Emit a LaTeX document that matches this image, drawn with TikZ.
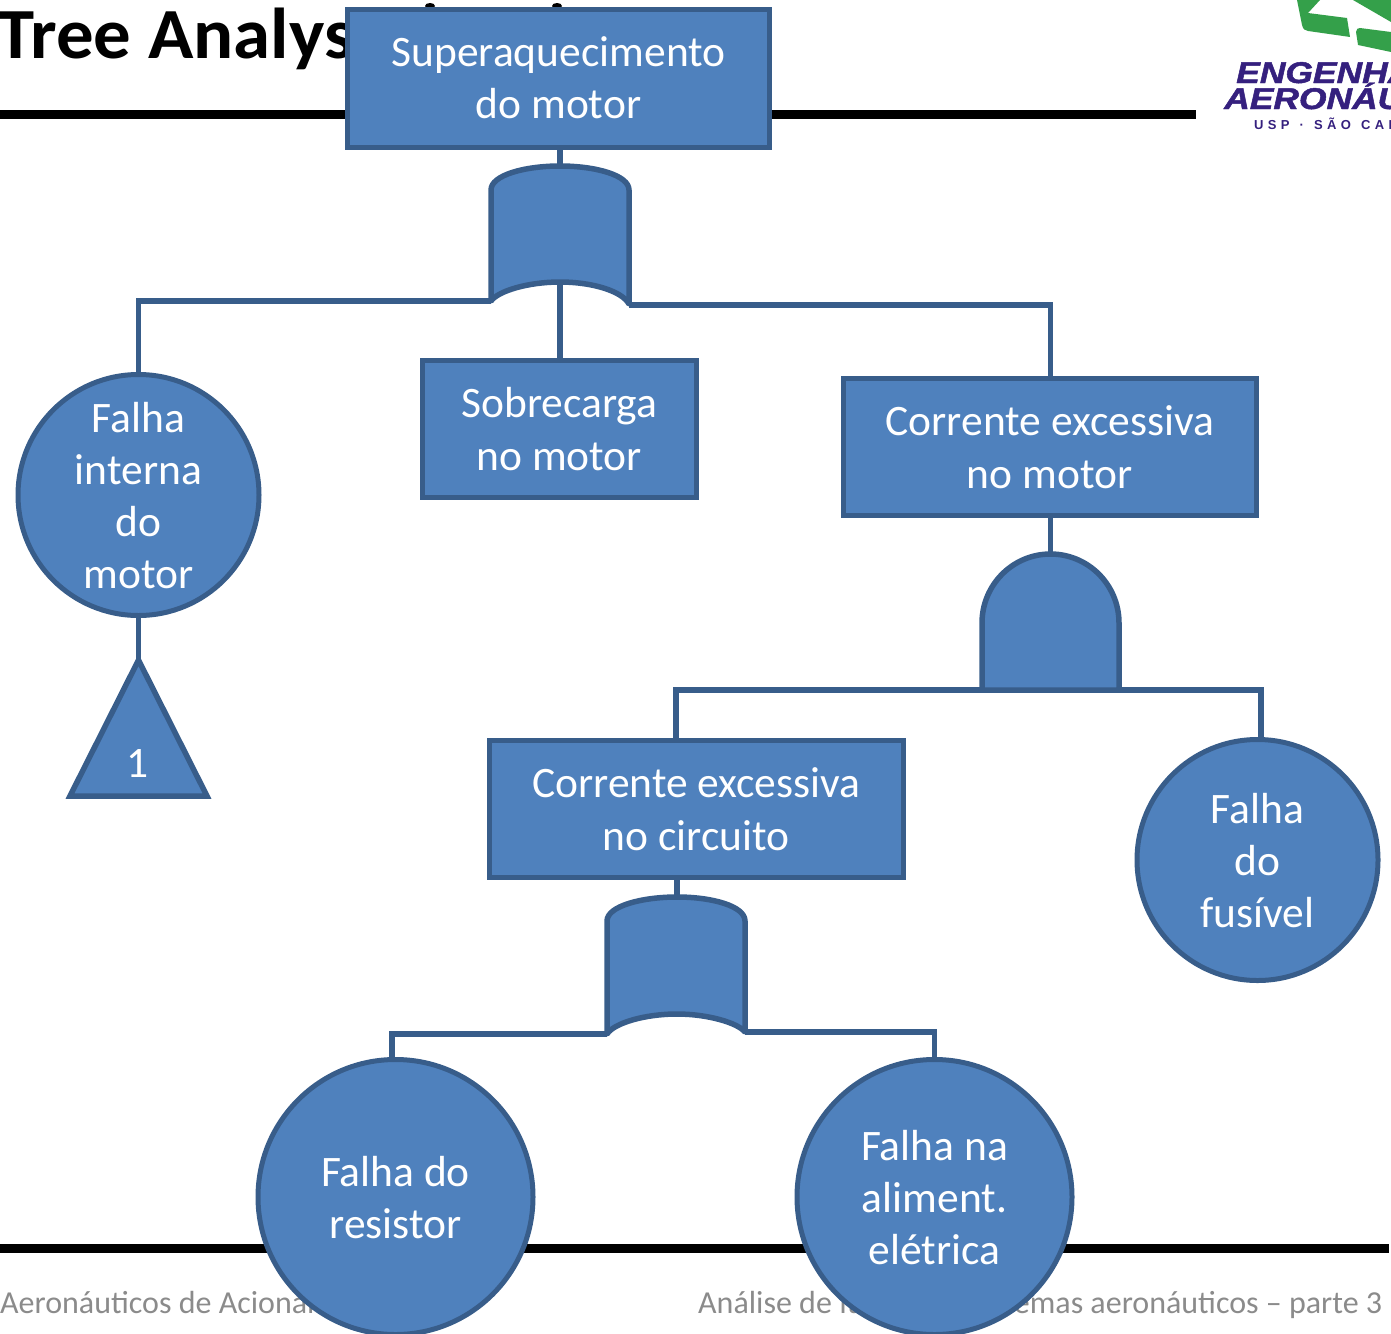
\documentclass[tikz,border=0pt]{standalone}
\usepackage{fontspec}
\setmainfont{Carlito}
\newfontfamily\logofont{Liberation Sans}
\usetikzlibrary{calc}
\definecolor{fillblue}{HTML}{4F81BD}
\definecolor{edgeblue}{HTML}{385D8A}
\definecolor{logogreen}{HTML}{34A04A}
\definecolor{logopurple}{HTML}{35207E}
\definecolor{footgrey}{HTML}{8B8B8B}
\newcommand\Ls{\rule{0pt}{36pt}}
\newcommand\Le{\rule[-5pt]{0pt}{5pt}}
\tikzset{
  blockbox/.style={draw=edgeblue,fill=fillblue,line width=5pt,text=white,inner sep=0pt,align=center,
    font=\fontsize{43.5}{52.2}\selectfont,line join=miter},
  eventcircle/.style={blockbox,circle},
  gateshape/.style={draw=edgeblue,fill=fillblue,line width=5.5pt,line join=round},
  wire/.style={draw=edgeblue,line width=5.5pt,line join=miter},
  rulebar/.style={draw=black,line width=9pt},
  foot/.style={text=footgrey,font=\fontsize{32}{36}\selectfont,inner sep=0pt,anchor=base west},
  logoword/.style={text=logopurple,draw=none,inner sep=0pt,anchor=base west,font=\logofont\bfseries\itshape\fontsize{30}{30}\selectfont}
}
\begin{document}
\begin{tikzpicture}[x=1pt,y=-1pt]
\useasboundingbox (0,0) rectangle (1391,1333);
\clip (0,0) rectangle (1391,1333);
% title and rules
\node[anchor=base west,inner sep=0pt,xscale=1.04,font=\bfseries\fontsize{72}{72}\selectfont] (title) at (-3,58) {Tree Analysis};
\fill (430,6) ellipse (5pt and 3pt);
\fill (557,6) ellipse (5pt and 3pt);
\coordinate (r1a) at (0,114); \coordinate (r1b) at (1196,114);
\coordinate (r2a) at (0,1248); \coordinate (r2b) at (1389,1248);
\draw[rulebar] (r1a) -- (r1b);
\draw[rulebar] (r2a) -- (r2b);
% footer
\node[foot] (footl) at (0,1313) {Aeronáuticos de Acionamento};
\node[foot] (footr) at (698,1313) {Análise de falhas em sistemas aeronáuticos – parte 3};
% logo
\fill[logogreen] (1297,0) -- (1302,25) .. controls (1303,29) and (1305,31) .. (1308,31) -- (1350,37) -- (1347,18) -- (1308,13) -- (1320,0) -- cycle;
\fill[logogreen] (1353,0) -- (1391,22) -- (1391,0) -- cycle;
\fill[logogreen] (1360,28) -- (1391,32) -- (1391,52) -- (1358,45) -- (1356,32) .. controls (1356,29) and (1358,28) .. (1360,28) -- cycle;
\node[logoword,xscale=1.18] (logo1) at (1236,83) {\addfontfeature{FakeBold=1.5}ENGENHARIA};
\node[logoword,xscale=1.18] (logo2) at (1224,109) {\addfontfeature{FakeBold=1.5}AERONÁUTICA};
\node[inner sep=0pt,anchor=base west,text=logopurple,font=\logofont\bfseries\fontsize{13}{13}\selectfont] (logo3) at (1254,129) {U\,\,S\,\,P\,\, \,·\,\, \,S\,\,Ã\,\,O\,\, \,C\,\,A\,\,R\,\,L\,\,O\,\,S};
% gate anchor points
\coordinate (g1top) at (560,166); \coordinate (g1l) at (491,301); \coordinate (g1r) at (629,305); \coordinate (g1b) at (560,282);
\coordinate (g2top) at (1050.5,554); \coordinate (g2l) at (982,690); \coordinate (g2r) at (1119,690);
\coordinate (g3top) at (677,897); \coordinate (g3l) at (607,1034); \coordinate (g3r) at (745,1032);
% nodes
\node[blockbox,minimum width=422pt,minimum height=138pt] (top) at (558.5,78) {Superaquecimento\\do motor};
\node[eventcircle,minimum size=241pt] (interna) at (138.5,495) {\Ls Falha\\interna\\do\\motor\Le};
\node[blockbox,minimum width=273.5pt,minimum height=137pt] (sobre) at (559.25,428.5) {\Ls Sobrecarga\\no motor\Le};
\node[blockbox,minimum width=412.5pt,minimum height=137pt] (cmotor) at (1049.75,446.5) {\Ls Corrente excessiva\\no motor\Le};
\node[blockbox,minimum width=413.5pt,minimum height=137pt] (ccirc) at (696.25,808.5) {\Ls Corrente excessiva\\no circuito\Le};
\node[eventcircle,minimum size=241pt] (fus) at (1257.5,860) {\Ls Falha\\do\\fusível\Le};
\node[eventcircle,minimum size=275pt] (res) at (395.5,1197) {\Ls Falha do\\resistor\Le};
\node[eventcircle,minimum size=275pt] (ali) at (934.5,1197) {\Ls Falha na\\aliment.\\elétrica\Le};
% connectors
\draw[wire] (g1top |- top.south) -- (g1top);
\draw[wire] (g1l) -| (interna.north);
\draw[wire] (g1b) -- (g1b |- sobre.north);
\draw[wire] (g1r) -| (g2top |- cmotor.north);
\draw[wire] (g2top |- cmotor.south) -- (g2top);
\draw[wire] (g2l) -| (676,740);
\draw[wire] (g2r) -| (1261,740);
\draw[wire] (g3top |- ccirc.south) -- (g3top);
\draw[wire] (g3l) -| (392,1060);
\draw[wire] (g3r) -| (ali.north);
% gates
\draw[gateshape] (g1l) -- (491,190) .. controls (491,175) and (525,166) .. (g1top) .. controls (595,166) and (629,175) .. (629,190) -- (629,304) .. controls (622,291) and (592,282) .. (g1b) .. controls (528,282) and (498,291) .. cycle;
\draw[gateshape] (g2l) -- (982,623) arc[start angle=180,end angle=0,x radius=68.5pt,y radius=69pt] -- (g2r) -- cycle;
\draw[gateshape] (g3l) -- (607,921) .. controls (607,906) and (642,897) .. (g3top) .. controls (712,897) and (745,906) .. (745,921) -- (g3r) .. controls (738,1023) and (708,1014) .. (677,1014) .. controls (645,1014) and (614,1023) .. cycle;
% transfer triangle
\coordinate (ta) at (138.5,660); \coordinate (tb) at (70,796); \coordinate (tc) at (207,796);
\draw[wire] (interna.south) -- (ta);
\draw[gateshape,line join=miter] (ta) -- (tb) -- (tc) -- cycle;
\node[text=white,inner sep=0pt,font=\fontsize{43.5}{52}\selectfont] (tlabel) at (138,763) {1};
\end{tikzpicture}
\end{document}
